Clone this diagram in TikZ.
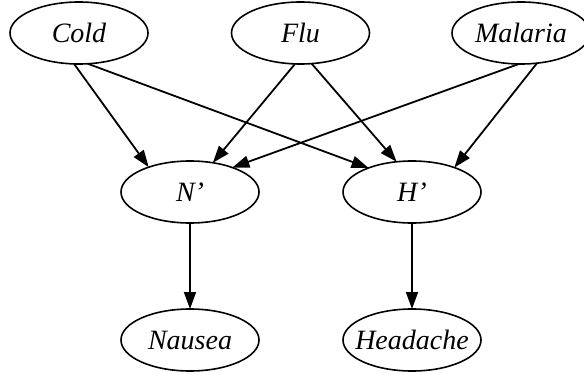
\documentclass[tikz,border=0pt]{standalone}
\usepackage{fontspec}
\setmainfont{Liberation Serif}
\usetikzlibrary{arrows.meta,shapes.geometric}
\begin{document}
\begin{tikzpicture}[x=0.5pt,y=-0.5pt,
  var/.style={draw, ellipse, line width=0.8pt, minimum width=69pt, minimum height=31pt, inner sep=0pt, outer sep=0pt, font=\fontsize{14pt}{16pt}\selectfont\itshape},
  edge/.style={line width=0.9pt, -{Triangle[length=8.5pt,width=6pt]}}]
\useasboundingbox (0,0) rectangle (584,375);
\node[var] (cold) at (79,33) {\makebox[0pt]{Cold}};
\node[var] (flu) at (300.5,33) {\makebox[0pt]{Flu}};
\node[var] (mal) at (521,33) {\makebox[0pt]{Malaria}};
\node[var] (np) at (190,192) {\makebox[0pt]{N’}};
\node[var] (hp) at (412,192) {\makebox[0pt]{H’}};
\node[var] (nau) at (190,340) {\makebox[0pt]{Nausea}};
\node[var] (head) at (412,340) {\makebox[0pt]{Headache}};
\draw[edge] (cold.-99) -- (np.149);
\draw[edge] (cold.-74) -- (hp.151);
\draw[edge] (flu.-100) -- (np.52);
\draw[edge] (flu.-70) -- (hp.117);
\draw[edge] (mal.-94) -- (np.30);
\draw[edge] (mal.-62) -- (hp.30);
\draw[edge] (np) -- (nau);
\draw[edge] (hp) -- (head);
\end{tikzpicture}
\end{document}
